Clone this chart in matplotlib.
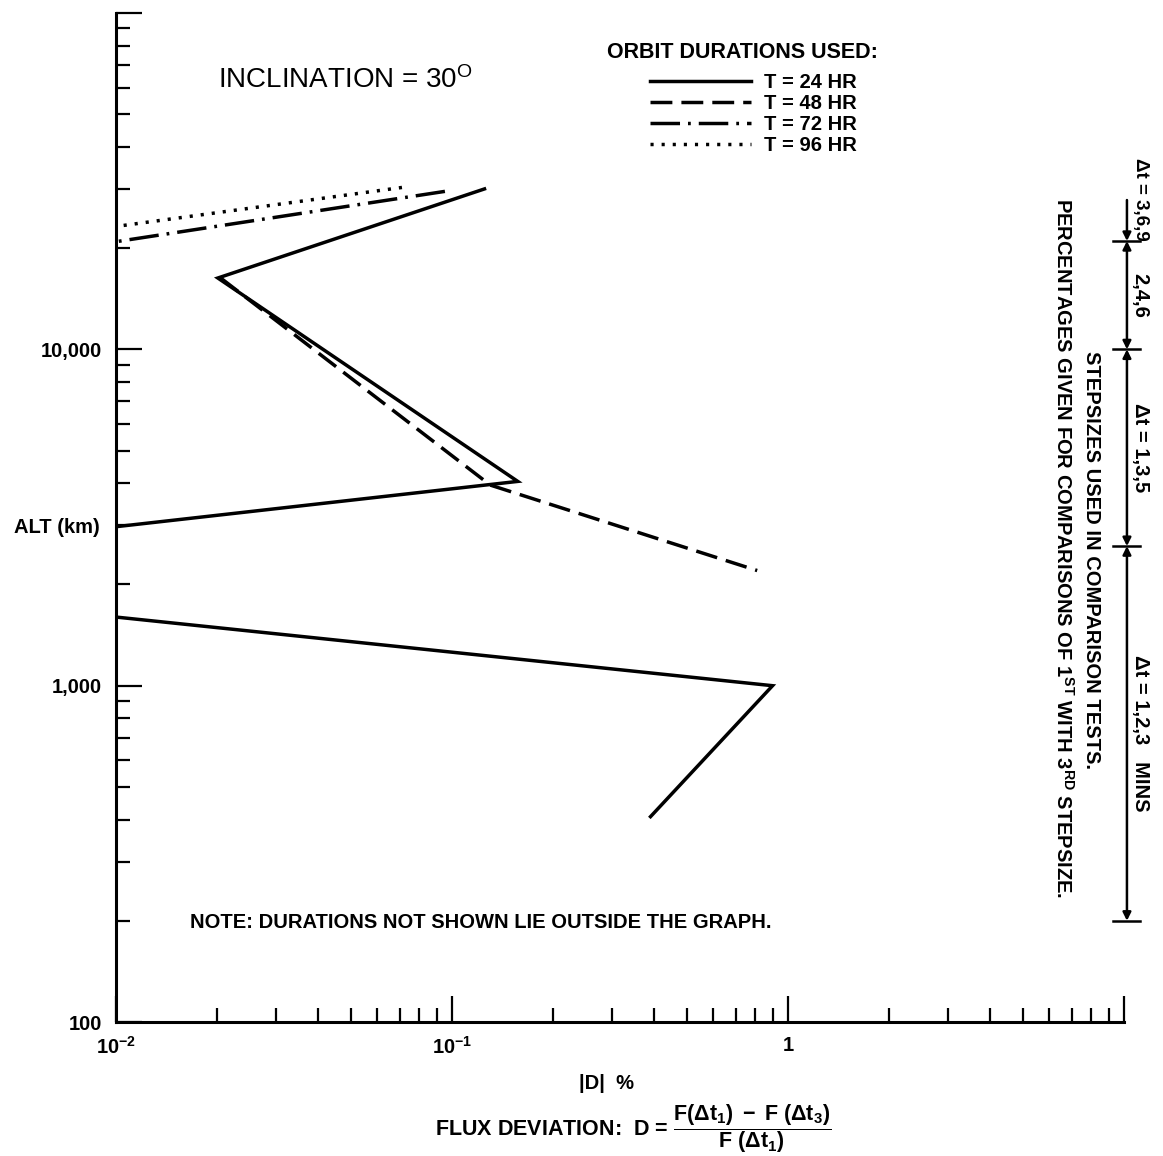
import numpy as np
import matplotlib.pyplot as plt
from matplotlib.ticker import NullFormatter

plt.rcParams['font.family'] = ['Liberation Sans', 'DejaVu Sans']
plt.rcParams['mathtext.fontset'] = 'custom'
plt.rcParams['mathtext.rm'] = 'Liberation Sans'
plt.rcParams['mathtext.it'] = 'Liberation Sans'
plt.rcParams['mathtext.bf'] = 'Liberation Sans:bold'
plt.rcParams['mathtext.default'] = 'regular'

# |D| (%) against altitude (km) for each orbit duration; nan = curve leaves the graph
alt_24 = [30000, 16300, 4050, 2970, np.nan, 1600, 1000, 408]
dev_24 = [0.125, 0.0201, 0.157, 0.0100, np.nan, 0.0100, 0.90, 0.39]

alt_48 = [16300, 3950, 2200]
dev_48 = [0.0205, 0.130, 0.81]

alt_72 = [29500, 20900]
dev_72 = [0.0953, 0.0100]

alt_96 = [30300, 23200]
dev_96 = [0.071, 0.0100]

labels = ['T = 24 HR', 'T = 48 HR', 'T = 72 HR', 'T = 96 HR']

# stepsizes used per altitude band (km)
band_edges = [27800, 21000, 10000, 2600, 200]
band_labels = ['Δt = 3,6,9', '2,4,6', 'Δt = 1,3,5', 'Δt = 1,2,3   MINS']

FS = 14.5
fig = plt.figure(figsize=(11.63, 11.56), dpi=100)
ax = fig.add_axes([0.0997, 0.1159, 0.8667, 0.8728])
ax.set_xscale('log')
ax.set_yscale('log')

lw = 2.5
l24, = ax.plot(dev_24, alt_24, color='black', lw=lw, solid_joinstyle='miter')
l48, = ax.plot(dev_48, alt_48, color='black', lw=lw, dashes=(6.3, 2.6))
l72, = ax.plot(dev_72, alt_72, color='black', lw=lw, dashes=(8.5, 2.3, 0.8, 2.3))
l96, = ax.plot(dev_96, alt_96, color='black', lw=lw, dashes=(0.9, 2.3))

for s in ['top', 'right']:
    ax.spines[s].set_visible(False)
for s in ['left', 'bottom']:
    ax.spines[s].set_linewidth(2.2)

ax.set_xlim(0.01, 10)
ax.set_ylim(100, 1e5)
ax.set_xticks([0.01, 0.1, 1, 10])
ax.set_xticklabels(['$10^{-2}$', '$10^{-1}$', '1', ''])
ax.set_yticks([100, 1000, 10000, 100000])
ax.set_yticklabels(['100', '1,000', '10,000', ''])
ax.xaxis.set_minor_formatter(NullFormatter())
ax.yaxis.set_minor_formatter(NullFormatter())
ax.tick_params(which='major', direction='in', length=19, width=1.6, labelsize=FS)
ax.tick_params(which='minor', direction='in', length=10, width=1.6)
ax.tick_params(axis='y', pad=10)
ax.tick_params(axis='x', pad=10)
for t in ax.get_xticklabels() + ax.get_yticklabels():
    t.set_fontweight('bold')

ax.set_ylabel('ALT (km)', rotation=0, ha='right', va='center', fontsize=FS, fontweight='bold')
ax.yaxis.set_label_coords(-0.016, 0.4906)
ax.set_xlabel('|D|  %', fontsize=FS, fontweight='bold')
ax.xaxis.set_label_coords(0.487, -0.052)

ax.text(0.101, 0.934, 'INCLINATION = 30$^{O}$', transform=ax.transAxes,
        fontsize=20, va='center', ha='left')
ax.text(0.073, 0.099, 'NOTE: DURATIONS NOT SHOWN LIE OUTSIDE THE GRAPH.',
        transform=ax.transAxes, fontsize=FS, fontweight='bold', va='center')

ax.text(0.487, 0.961, 'ORBIT DURATIONS USED:', transform=ax.transAxes,
        fontsize=15.5, fontweight='bold', va='center', ha='left')
ax.legend([l24, l48, l72, l96], labels,
          loc='upper left', bbox_to_anchor=(0.530, 0.941), frameon=False,
          handlelength=5, handletextpad=0.65, labelspacing=0.1,
          borderpad=0, borderaxespad=0,
          prop={'size': FS, 'weight': 'bold'})

# stepsize bands along the right edge
yx = ax.get_yaxis_transform()
x_bar = 1.003
for i, (hi, lo) in enumerate(zip(band_edges[:-1], band_edges[1:])):
    style = '-|>' if i == 0 else '<|-|>'
    ax.annotate('', xy=(x_bar, lo), xytext=(x_bar, hi), xycoords=yx, textcoords=yx,
                annotation_clip=False,
                arrowprops=dict(arrowstyle=style, lw=1.8, color='black',
                                mutation_scale=12, shrinkA=0, shrinkB=0))
    if i == 0:
        # top band is too short for its label, so the label runs up past the end
        ax.text(1.016, lo, band_labels[i], transform=yx, rotation=270,
                ha='center', va='bottom', fontsize=FS - 1, fontweight='bold', clip_on=False)
    else:
        ax.text(1.016, np.sqrt(hi * lo), band_labels[i], transform=yx, rotation=270,
                ha='center', va='center', fontsize=FS, fontweight='bold', clip_on=False)
for e in band_edges[1:]:
    ax.plot([0.989, 1.016], [e, e], transform=yx, color='black', lw=1.8, clip_on=False)

ax.text(0.968, 0.458, 'STEPSIZES USED IN COMPARISON TESTS.', transform=ax.transAxes,
        rotation=270, ha='center', va='center', fontsize=FS, fontweight='bold')
ax.text(0.940, 0.470, 'PERCENTAGES GIVEN FOR COMPARISONS OF 1$^{ST}$ WITH 3$^{RD}$ STEPSIZE.',
        transform=ax.transAxes, rotation=270, ha='center', va='center',
        fontsize=FS, fontweight='bold')

fig.text(435 / 1163, 1 - 1129 / 1156,
         r'FLUX DEVIATION:  D = $\dfrac{F(\Delta t_1)\ -\ F\ (\Delta t_3)}{F\ (\Delta t_1)}$',
         ha='left', va='center', fontsize=15.5, fontweight='bold')

fig.savefig('out.png', dpi=100, facecolor='white')
